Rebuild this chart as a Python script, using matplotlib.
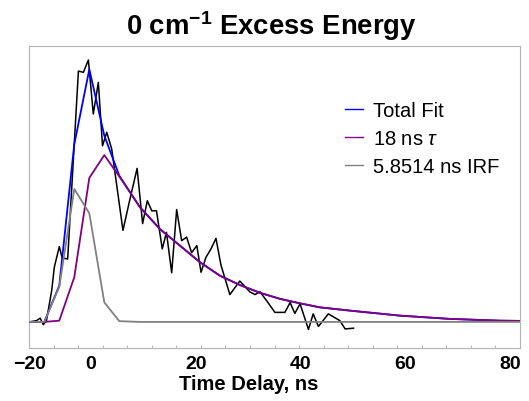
import numpy as np
import matplotlib
matplotlib.use("Agg")
import matplotlib.pyplot as plt

plt.rcParams['font.family'] = ['Liberation Sans', 'DejaVu Sans']
plt.rcParams['mathtext.fontset'] = 'custom'
plt.rcParams['mathtext.rm'] = 'Liberation Sans'
plt.rcParams['mathtext.it'] = 'Liberation Sans:italic'
plt.rcParams['mathtext.bf'] = 'Liberation Sans:bold'

# measured transient (time delay in ns, normalised signal)
data_t = [-11.8, -10.4, -9.7, -9.1, -8.5, -7.5, -7.0, -6.05, -5.5, -4.45,
          -2.4, -1.45, -0.5, 0.44, 1.4, 2.2, 3.0, 3.95, 6.1, 7.44,
          8.8, 9.85, 10.75, 11.6, 12.5, 13.6, 14.4, 15.4, 16.35, 17.3,
          18.25, 19.2, 20.2, 21.0, 21.95, 22.9, 23.85, 24.8, 26.5, 28.4,
          30.3, 31.3, 32.25, 33.5, 35.1, 37.0, 38.0, 38.9, 39.9, 41.5,
          42.4, 43.4, 45.3, 47.5, 48.5, 50.1]
data_y = [0.0, 0.005, 0.015, -0.011, 0.005, 0.125, 0.218, 0.30, 0.255, 0.251,
          1.0, 0.995, 1.044, 0.829, 0.955, 0.702, 0.756, 0.69, 0.365, 0.49,
          0.612, 0.392, 0.483, 0.443, 0.443, 0.291, 0.357, 0.196, 0.448, 0.324,
          0.338, 0.276, 0.304, 0.198, 0.258, 0.291, 0.333, 0.227, 0.109, 0.163,
          0.12, 0.109, 0.12, 0.085, 0.038, 0.038, 0.077, 0.034, 0.072, -0.03,
          0.032, -0.018, 0.032, 0.005, -0.028, -0.025]

# fit components on the fit grid
fit_t = [-11.77, -8.91, -6.05, -3.19, -0.32, 2.54, 5.40, 9.35, 13.17, 16.98,
         20.80, 24.62, 28.44, 32.25, 36.07, 39.89, 43.70, 49.43, 58.97, 68.51,
         78.05, 81.87]
tau_y = [0.0, 0.0, 0.005, 0.178, 0.574, 0.665, 0.58, 0.457, 0.370, 0.304,
         0.238, 0.184, 0.147, 0.116, 0.092, 0.074, 0.058, 0.045, 0.025, 0.012,
         0.005, 0.004]
irf_y = [0.0, 0.0, 0.14, 0.53, 0.433, 0.078, 0.003, 0.0, 0.0, 0.0,
         0.0, 0.0, 0.0, 0.0, 0.0, 0.0, 0.0, 0.0, 0.0, 0.0,
         0.0, 0.0]
total_y = [0.0, 0.0, 0.145, 0.708, 1.007, 0.743, 0.583, 0.457, 0.370, 0.304,
           0.238, 0.184, 0.147, 0.116, 0.092, 0.074, 0.058, 0.045, 0.025, 0.012,
           0.005, 0.004]

tick_vals = [-11.77, 0, 20, 40, 60, 80]
tick_labels = ['\u221220', '0', '20', '40', '60', '80']

x_min, x_max = -11.83, 81.87

fig = plt.figure(figsize=(5.29, 4.02), dpi=100)
ax = fig.add_axes([29 / 529, 1 - 349 / 402, 491 / 529, 302 / 402])

ax.plot(data_t, data_y, color='black', lw=1.1, zorder=2)
ax.plot(fit_t, total_y, color='#0000ff', lw=1.3, label='Total Fit', zorder=3)
ax.plot(fit_t, tau_y, color='#800080', lw=1.3, label='18 ns $\\tau$', zorder=4)
ax.plot(fit_t, irf_y, color='#808080', lw=1.3, label='5.8514 ns IRF', zorder=5)

ax.set_xlim(x_min, x_max)
ax.set_ylim(-0.104, 1.10)
ax.set_yticks([])

# small inward ticks along the bottom frame
ax.set_xticks(np.linspace(x_min, x_max, 21)[1:-1], minor=True)
ax.set_xticks(tick_vals, tick_labels)
ax.tick_params(axis='x', which='major', length=0, pad=5, labelsize=14)
ax.tick_params(axis='x', which='minor', length=2.2, direction='in',
               color='#aaaaaa', width=0.6)
for lab in ax.get_xticklabels():
    lab.set_fontweight('bold')

for sp in ax.spines.values():
    sp.set_color('#b4b4b4')
    sp.set_linewidth(0.8)

ax.set_xlabel('Time Delay, ns', fontsize=14.5, fontweight='bold')
ax.xaxis.set_label_coords((249 - 29) / 491, (349 - 385) / 302)
ax.xaxis.label.set_va('center')

fig.text(271 / 529, 1 - 26 / 402, '0 cm$^{\\mathbf{-1}}$ Excess Energy',
         ha='center', va='center', fontsize=19.8, fontweight='bold')

leg = ax.legend(loc='upper left', bbox_to_anchor=((345 - 29) / 491, (349 - 102) / 302),
                frameon=False, fontsize=14.5, handlelength=0.9, handletextpad=0.5,
                labelspacing=0.45, borderpad=0, borderaxespad=0)
for ln in leg.get_lines():
    ln.set_linewidth(1.0)

fig.savefig('out.png', dpi=100)
plt.close(fig)
